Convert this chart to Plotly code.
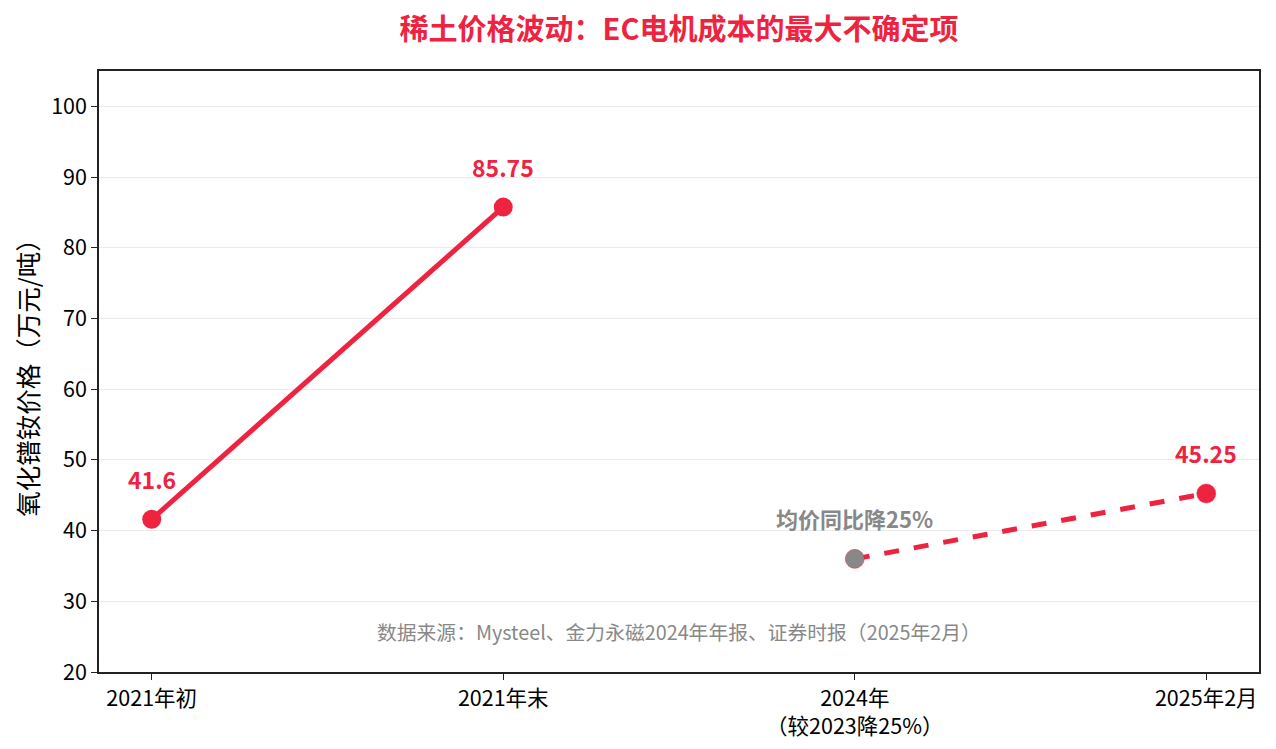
import plotly.graph_objects as go

# data
periods = ["2021年初", "2021年末", "2024年<br>（较2023降25%）", "2025年2月"]
prices = [41.6, 85.75, 36.0, 45.25]
price_labels = ["41.6", "85.75", "", "45.25"]

RED = "#EE2340"
GRAY = "#888888"
FONT = "Noto Sans CJK SC"

fig = go.Figure()

# 2021 surge (solid)
fig.add_trace(go.Scatter(
    x=periods[:2], y=prices[:2],
    mode="lines+markers",
    line=dict(color=RED, width=5),
    marker=dict(color=RED, size=19),
    showlegend=False,
))

# 2024 -> 2025 rebound (dashed)
fig.add_trace(go.Scatter(
    x=periods[2:], y=prices[2:],
    mode="lines+markers",
    line=dict(color=RED, width=5, dash="dash"),
    marker=dict(color=[GRAY, RED], size=19, line=dict(color=RED, width=0.5)),
    showlegend=False,
))

# value labels above the red points
for p, v, lab in zip(periods, prices, price_labels):
    if lab:
        fig.add_annotation(
            x=p, y=v, text=f"<b>{lab}</b>", showarrow=False, yshift=40,
            font=dict(color=RED, size=23, family=FONT),
        )

fig.add_annotation(
    x=periods[2], y=prices[2], text="<b>均价同比降25%</b>",
    showarrow=False, yshift=41,
    font=dict(color=GRAY, size=22, family=FONT),
)
fig.add_annotation(
    x=0.5, y=0.068, xref="paper", yref="paper", yanchor="middle",
    text="数据来源：Mysteel、金力永磁2024年年报、证券时报（2025年2月）",
    showarrow=False,
    font=dict(color=GRAY, size=19.8, family=FONT),
)

# the page body adds an 8px offset, so the figure is sized to fit the window
fig.update_layout(
    width=1268, height=741,
    margin=dict(l=91, r=17, t=63, b=77),
    plot_bgcolor="white", paper_bgcolor="white",
    font=dict(family=FONT, size=21.5, color="black"),
    title=dict(
        text="<b>稀土价格波动：EC电机成本的最大不确定项</b>",
        x=0.5, xref="paper", xanchor="center", y=0.9705, yanchor="middle",
        font=dict(color=RED, size=29, family=FONT),
    ),
)
fig.update_xaxes(
    type="category", range=[-0.15, 3.15], automargin=False,
    showline=True, linecolor="#222", linewidth=1.5, mirror=True,
    ticks="outside", ticklen=6, tickcolor="#222",
    showgrid=False,
)
fig.update_yaxes(
    range=[20, 105], dtick=10, tick0=0, automargin=False,
    title=dict(text="氧化镨钕价格（万元/吨）", font=dict(size=25.5), standoff=14),
    showline=True, linecolor="#222", linewidth=1.5, mirror=True,
    ticks="outside", ticklen=6, tickcolor="#222",
    showgrid=True, gridcolor="#EBEBEB", gridwidth=1,
    zeroline=False,
)

fig.write_html("out.html")
